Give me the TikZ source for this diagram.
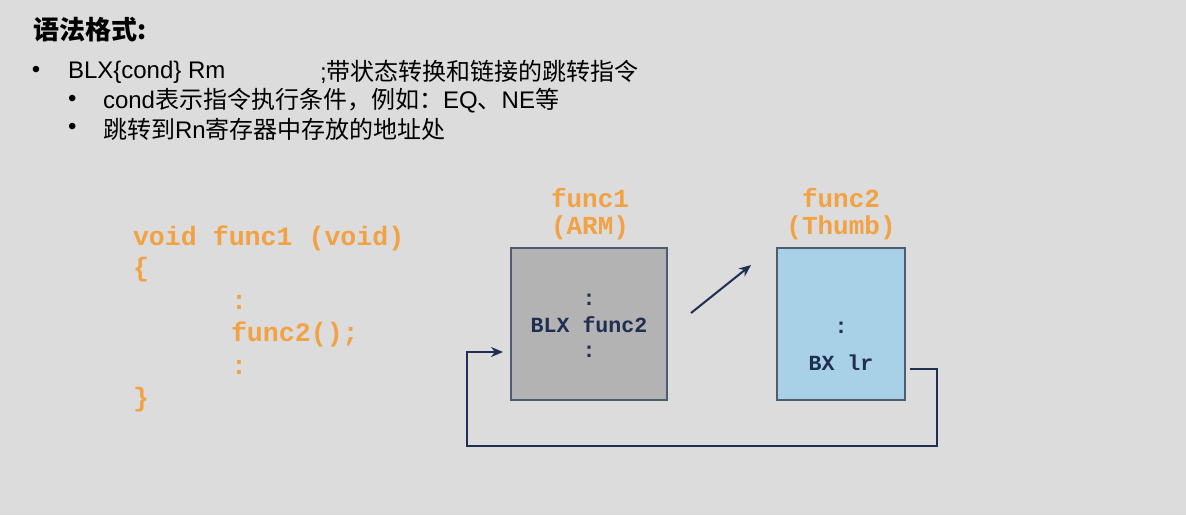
\documentclass[tikz,border=0pt]{standalone}
\usepackage{fontspec}
\setmainfont{Liberation Sans}
\setmonofont{Liberation Mono}
\newfontfamily\cjk{Noto Sans CJK SC}
\usetikzlibrary{arrows.meta}

\definecolor{slidebg}{HTML}{DCDCDC}
\definecolor{codeorange}{HTML}{F2A143}
\definecolor{navy}{HTML}{1F2F52}
\definecolor{boxline}{HTML}{4F5B6E}
\definecolor{armgray}{HTML}{B3B3B3}
\definecolor{thumbblue}{HTML}{A8D1E8}

\begin{document}
\begin{tikzpicture}[x=0.5pt, y=-0.5pt,
  every node/.style={inner sep=0pt, outer sep=0pt},
  heading/.style={anchor=west, font=\fontsize{13}{15}\selectfont\bfseries},
  bullettext/.style={anchor=west, font=\fontsize{12}{14}\selectfont},
  code/.style={anchor=west, text=codeorange, font=\fontsize{13.3}{16}\selectfont\ttfamily\bfseries},
  funclabel/.style={text=codeorange, font=\fontsize{13}{15}\selectfont\ttfamily\bfseries},
  boxtext/.style={text=navy, font=\fontsize{10.8}{13}\selectfont\ttfamily\bfseries},
  membox/.style={draw=boxline, line width=0.8pt, minimum height=76pt},
  flow/.style={navy, line width=1pt, -{Stealth[length=6pt, width=5pt]}}]

% Slide background
\useasboundingbox (0,0) rectangle (1186,515);
\fill[slidebg] (0,0) rectangle (1186,515);

% Heading and bullets
\node[heading] (title) at (33,30) {\cjk\bfseries 语法格式:};

\node[bullettext] (dot1) at (32,72) {•};
\node[bullettext] (blx) at (68,72) {BLX\{cond\} Rm};
\node[bullettext] (blxnote) at (320,72) {;\cjk 带状态转换和链接的跳转指令};

\node[bullettext] (dot2) at (68,101) {•};
\node[bullettext] (condnote) at (103,101) {cond{\cjk 表示指令执行条件，例如：}EQ{\cjk 、}NE{\cjk 等}};

\node[bullettext] (dot3) at (68,129) {•};
\node[bullettext] (rnnote) at (103,129) {{\cjk 跳转到}Rn{\cjk 寄存器中存放的地址处}};

% C source of func1
\node[code] (proto) at (133,238) {void func1 (void)};
\node[code] (lbrace) at (133,270) {\{};
\node[code] (dots1) at (231,302) {:};
\node[code] (call) at (231,334) {func2();};
\node[code] (dots2) at (231,367) {:};
\node[code] (rbrace) at (133,400) {\}};

% func1 in ARM state
\node[membox, fill=armgray, minimum width=78pt] (armbox) at (589,324) {};
\node[funclabel] (armname) at (590,198) {func1};
\node[funclabel] (armstate) at (590,228) {(ARM)};
\node[boxtext] (armdots1) at (589,300) {:};
\node[boxtext] (blxcall) at (589,325) {BLX func2};
\node[boxtext] (armdots2) at (589,352) {:};

% func2 in Thumb state
\node[membox, fill=thumbblue, minimum width=64pt] (thumbbox) at (841,324) {};
\node[funclabel] (thumbname) at (841,198) {func2};
\node[funclabel] (thumbstate) at (841,228) {(Thumb)};
\node[boxtext] (thumbdots) at (841,328) {:};
\node[boxtext] (bxret) at (841,363) {BX lr};

% Call and return
\coordinate (callfrom) at (691,313);
\coordinate (callto) at (751,265);
\draw[flow] (callfrom) -- (callto);

\coordinate (retfrom) at (910,369);
\coordinate (retto) at (503,352);
\draw[flow] (retfrom) -- (937,369) -- (937,446) -- (467,446) -- (467,352) -- (retto);

\end{tikzpicture}
\end{document}
